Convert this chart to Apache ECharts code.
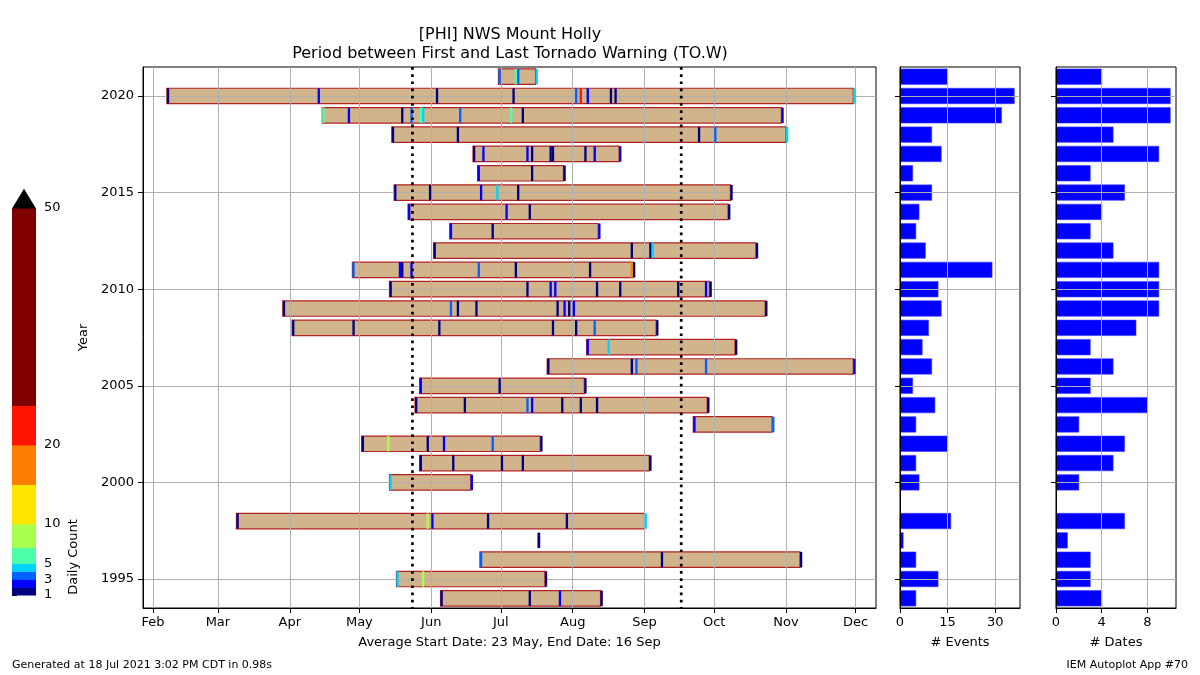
<!DOCTYPE html>
<html>
<head>
<meta charset="utf-8">
<script src="https://cdn.jsdelivr.net/npm/echarts@6/dist/echarts.min.js"></script>
<style>
  html, body { margin: 0; padding: 0; background: #fff; }
  #main { width: 1200px; height: 675px; }
</style>
</head>
<body>
<div id="main"></div>
<script>
// years shown on the chart (bottom to top)
var years = [1994, 1995, 1996, 1997, 1998, 1999, 2000, 2001, 2002, 2003, 2004, 2005, 2006, 2007,
             2008, 2009, 2010, 2011, 2012, 2013, 2014, 2015, 2016, 2017, 2018, 2019, 2020, 2021];

// day of year of each date with a tornado warning
var warnDays = [
  [156, 194, 207, 225],                          // 1994
  [137, 148, 201],                               // 1995
  [173, 251, 311],                               // 1996
  [198],                                         // 1997
  [68, 150, 152, 176, 210, 244],                 // 1998
  [],                                            // 1999
  [134, 169],                                    // 2000
  [147, 161, 182, 191, 246],                     // 2001
  [122, 133, 150, 157, 178, 199],                // 2002
  [265, 299],                                    // 2003
  [145, 166, 193, 195, 208, 216, 223, 271],      // 2004
  [147, 181, 218],                               // 2005
  [202, 238, 240, 270, 334],                     // 2006
  [219, 228, 283],                               // 2007
  [92, 118, 155, 204, 214, 222, 249],            // 2008
  [88, 160, 163, 171, 206, 209, 211, 213, 296],  // 2009
  [134, 193, 203, 205, 223, 233, 258, 270, 272], // 2010
  [118, 138, 139, 143, 172, 188, 220, 238, 239], // 2011
  [153, 238, 246, 247, 292],                     // 2012
  [160, 178, 224],                               // 2013
  [142, 184, 194, 280],                          // 2014
  [136, 151, 173, 180, 189, 281],                // 2015
  [172, 195, 209],                               // 2016
  [170, 174, 193, 195, 203, 204, 218, 222, 233], // 2017
  [135, 163, 267, 274, 305],                     // 2018
  [105, 116, 139, 143, 147, 148, 164, 186, 191, 303], // 2019
  [38, 103, 154, 187, 214, 216, 219, 229, 231, 334],  // 2020
  [181, 188, 189, 197]                           // 2021
];
// number of warnings issued on each of those dates
var warnCounts = [
  [1, 1, 2, 1],
  [4, 7, 1],
  [3, 1, 1],
  [1],
  [1, 7, 2, 1, 1, 4],
  [],
  [4, 2],
  [1, 1, 1, 1, 1],
  [1, 7, 1, 2, 3, 1],
  [2, 3],
  [1, 1, 3, 2, 1, 1, 1, 1],
  [2, 1, 1],
  [1, 1, 3, 3, 2],
  [2, 4, 1],
  [1, 1, 1, 1, 1, 3, 1],
  [1, 3, 1, 1, 1, 2, 1, 2, 1],
  [1, 1, 2, 2, 1, 1, 1, 2, 1],
  [3, 2, 1, 2, 3, 1, 1, 15, 1],
  [1, 1, 1, 4, 1],
  [2, 1, 2],
  [2, 2, 1, 1],
  [1, 1, 2, 4, 1, 1],
  [2, 1, 1],
  [1, 2, 2, 1, 1, 1, 1, 2, 2],
  [1, 1, 1, 3, 4],
  [5, 2, 1, 3, 6, 4, 3, 5, 1, 2],
  [1, 2, 1, 1, 3, 20, 2, 1, 1, 4],
  [3, 5, 3, 4]
];

var eventCounts = [5, 12, 5, 1, 16, 0, 6, 5, 15, 5, 11, 4, 10, 7, 9, 13, 12, 29, 8, 5, 6, 10, 4, 13, 10, 32, 36, 15];
var dateCounts  = [4, 3, 3, 1, 6, 0, 2, 5, 6, 2, 8, 3, 5, 3, 7, 9, 9, 9, 5, 3, 4, 6, 3, 9, 5, 10, 10, 4];

var avgStartDay = 143.9;   // 23 May
var avgEndDay = 259.8;     // 16 Sep

var monthStarts = [32, 60, 91, 121, 152, 182, 213, 244, 274, 305, 335];
var monthLabels = ['Feb', 'Mar', 'Apr', 'May', 'Jun', 'Jul', 'Aug', 'Sep', 'Oct', 'Nov', 'Dec'];
var yearTicks = [1995, 2000, 2005, 2010, 2015, 2020];

var colorBounds = [1, 2, 3, 4, 5, 7, 10, 15, 20, 25, 50];
var colorList = ['#000080', '#0000ff', '#0063ff', '#00d4ff', '#4dffa9',
                 '#a9ff4d', '#ffe600', '#ff7d00', '#ff1400', '#800000'];
var colorTicks = [1, 3, 5, 10, 20, 50];

var FONT = 'DejaVu Sans';
var Y_MIN = 1993.5, Y_MAX = 2021.5;

function countColor(c) {
  for (var i = colorBounds.length - 2; i >= 0; i--) {
    if (c >= colorBounds[i]) return colorList[i];
  }
  return colorList[0];
}

// build series data
var rangeData = [], warnData = [], eventData = [], dateData = [];
years.forEach(function (y, i) {
  var d = warnDays[i];
  if (d.length) rangeData.push([d[0], d[d.length - 1], y]);
  d.forEach(function (day, j) { warnData.push([day, y, warnCounts[i][j]]); });
  if (eventCounts[i] > 0) eventData.push([eventCounts[i], y]);
  if (dateCounts[i] > 0) dateData.push([dateCounts[i], y]);
});
var cbarData = colorList.map(function (c, i) { return [0, colorBounds[i], colorBounds[i + 1], i]; });

var myChart = echarts.init(document.getElementById('main'));

var gridLine = { show: true, lineStyle: { color: '#b0b0b0', width: 1 } };
var axLine = { show: true, lineStyle: { color: '#000', width: 1 } };
var tick = { show: true, length: 5, lineStyle: { color: '#000' } };
var lab = { color: '#000', fontSize: 13, fontFamily: FONT };
var plain = function (v) { return String(v); };

function hbar(params, api) {
  var a = api.coord([0, api.value(1)]);
  var b = api.coord([api.value(0), api.value(1)]);
  var h = api.size([0, 0.8])[1];
  return { type: 'rect', shape: { x: a[0], y: a[1] - h / 2, width: b[0] - a[0], height: h },
           style: { fill: '#0000ff', stroke: '#3a3aff', lineWidth: 0.6 } };
}

function sideYAxis(idx) {
  return {
    type: 'value', gridIndex: idx, min: Y_MIN, max: Y_MAX, z: 3,
    axisLine: axLine, axisTick: Object.assign({ customValues: yearTicks }, tick),
    axisLabel: { show: false, customValues: yearTicks }, splitLine: gridLine
  };
}

function txt(x, y, s, size, align, rot) {
  return { type: 'text', x: x, y: y, rotation: rot || 0,
           style: { text: s, fill: '#000', font: size + 'px "' + FONT + '"',
                    textAlign: align, textVerticalAlign: 'middle' } };
}

var option = {
  animation: false,
  backgroundColor: '#fff',
  grid: [
    { left: 143, top: 67, width: 733, height: 541, show: true, borderColor: '#000', borderWidth: 1 },
    { left: 900, top: 67, width: 120, height: 541, show: true, borderColor: '#000', borderWidth: 1 },
    { left: 1056, top: 67, width: 120, height: 541, show: true, borderColor: '#000', borderWidth: 1 },
    { left: 12, top: 208, width: 24, height: 387 }
  ],
  xAxis: [
    {
      type: 'value', gridIndex: 0, min: 27.7, max: 343.8, z: 3,
      name: 'Average Start Date: 23 May, End Date: 16 Sep', nameLocation: 'middle', nameGap: 28,
      nameTextStyle: lab,
      axisLine: axLine, axisTick: Object.assign({ customValues: monthStarts }, tick),
      axisLabel: Object.assign({ customValues: monthStarts, margin: 8,
        formatter: function (v) { return monthLabels[monthStarts.indexOf(v)]; } }, lab),
      splitLine: gridLine
    },
    {
      type: 'value', gridIndex: 1, min: 0, max: 37.8, z: 3,
      name: '# Events', nameLocation: 'middle', nameGap: 28, nameTextStyle: lab,
      axisLine: axLine, axisTick: Object.assign({ customValues: [0, 15, 30] }, tick),
      axisLabel: Object.assign({ customValues: [0, 15, 30], margin: 8, formatter: plain }, lab),
      splitLine: gridLine
    },
    {
      type: 'value', gridIndex: 2, min: 0, max: 10.5, z: 3,
      name: '# Dates', nameLocation: 'middle', nameGap: 28, nameTextStyle: lab,
      axisLine: axLine, axisTick: Object.assign({ customValues: [0, 4, 8] }, tick),
      axisLabel: Object.assign({ customValues: [0, 4, 8], margin: 8, formatter: plain }, lab),
      splitLine: gridLine
    },
    { type: 'value', gridIndex: 3, min: 0, max: 1, show: false }
  ],
  yAxis: [
    {
      type: 'value', gridIndex: 0, min: Y_MIN, max: Y_MAX, z: 3,
      name: 'Year', nameLocation: 'middle', nameGap: 52, nameTextStyle: lab,
      axisLine: axLine, axisTick: Object.assign({ customValues: yearTicks }, tick),
      axisLabel: Object.assign({ customValues: yearTicks, margin: 9, formatter: plain }, lab),
      splitLine: gridLine
    },
    sideYAxis(1),
    sideYAxis(2),
    {
      type: 'value', gridIndex: 3, min: 1, max: 50, position: 'right',
      axisLine: { show: false }, splitLine: { show: false },
      axisTick: Object.assign({ customValues: colorTicks }, tick),
      axisLabel: Object.assign({ customValues: colorTicks, margin: 8, formatter: plain }, lab)
    }
  ],
  series: [
    {
      // first to last warning of each year
      type: 'custom', xAxisIndex: 0, yAxisIndex: 0, z: 2,
      encode: { x: [0, 1], y: 2 },
      data: rangeData,
      renderItem: function (params, api) {
        var a = api.coord([api.value(0), api.value(2)]);
        var b = api.coord([api.value(1), api.value(2)]);
        var h = api.size([0, 0.8])[1];
        return { type: 'rect', shape: { x: a[0], y: a[1] - h / 2, width: b[0] - a[0], height: h },
                 style: { fill: '#d2b48c', stroke: '#b22222', lineWidth: 1.2 } };
      }
    },
    {
      // one mark per warning date, coloured by daily count
      type: 'custom', xAxisIndex: 0, yAxisIndex: 0, z: 4,
      encode: { x: 0, y: 1 },
      data: warnData,
      renderItem: function (params, api) {
        var a = api.coord([api.value(0), api.value(1)]);
        var b = api.coord([api.value(0) + 1, api.value(1)]);
        var h = api.size([0, 0.8])[1];
        return { type: 'rect', shape: { x: a[0], y: a[1] - h / 2, width: Math.max(b[0] - a[0], 2), height: h },
                 style: { fill: countColor(api.value(2)) } };
      }
    },
    {
      // average start / end dates
      type: 'custom', xAxisIndex: 0, yAxisIndex: 0, z: 5,
      encode: { x: 0 },
      data: [[avgStartDay], [avgEndDay]],
      renderItem: function (params, api) {
        var t = api.coord([api.value(0), Y_MAX]);
        var b = api.coord([api.value(0), Y_MIN]);
        return { type: 'line', shape: { x1: t[0], y1: t[1], x2: b[0], y2: b[1] },
                 style: { stroke: '#000', lineWidth: 2.7, lineDash: [2.7, 4.5] } };
      }
    },
    {
      type: 'custom', xAxisIndex: 1, yAxisIndex: 1, z: 2,
      encode: { x: 0, y: 1 }, data: eventData, renderItem: hbar
    },
    {
      type: 'custom', xAxisIndex: 2, yAxisIndex: 2, z: 2,
      encode: { x: 0, y: 1 }, data: dateData, renderItem: hbar
    },
    {
      // colour bar
      type: 'custom', xAxisIndex: 3, yAxisIndex: 3, z: 2,
      encode: { x: 0, y: [1, 2] },
      data: cbarData,
      renderItem: function (params, api) {
        var a = api.coord([0, api.value(1)]);
        var b = api.coord([1, api.value(2)]);
        return { type: 'rect', shape: { x: a[0], y: b[1], width: b[0] - a[0], height: a[1] - b[1] + 0.5 },
                 style: { fill: colorList[api.value(3)] } };
      }
    },
    {
      // "extend max" triangle on top of the colour bar
      type: 'custom', xAxisIndex: 3, yAxisIndex: 3, z: 2,
      encode: { x: 0, y: 1 },
      data: [[0, colorBounds[colorBounds.length - 1]]],
      renderItem: function (params, api) {
        var a = api.coord([0, api.value(1)]);
        var b = api.coord([1, api.value(1)]);
        var w = b[0] - a[0];
        return { type: 'polygon',
                 shape: { points: [[a[0], a[1] + 0.5], [b[0], b[1] + 0.5], [(a[0] + b[0]) / 2, a[1] - w * 0.8]] },
                 style: { fill: '#000' } };
      }
    }
  ],
  graphic: [
    txt(510, 35, '[PHI] NWS Mount Holly', 16, 'center'),
    txt(510, 53.5, 'Period between First and Last Tornado Warning (TO.W)', 16, 'center'),
    txt(74, 557, 'Daily Count', 13, 'center', Math.PI / 2),
    txt(12, 665, 'Generated at 18 Jul 2021 3:02 PM CDT in 0.98s', 11, 'left'),
    txt(1188, 665, 'IEM Autoplot App #70', 11, 'right')
  ]
};

myChart.setOption(option);
</script>
</body>
</html>
